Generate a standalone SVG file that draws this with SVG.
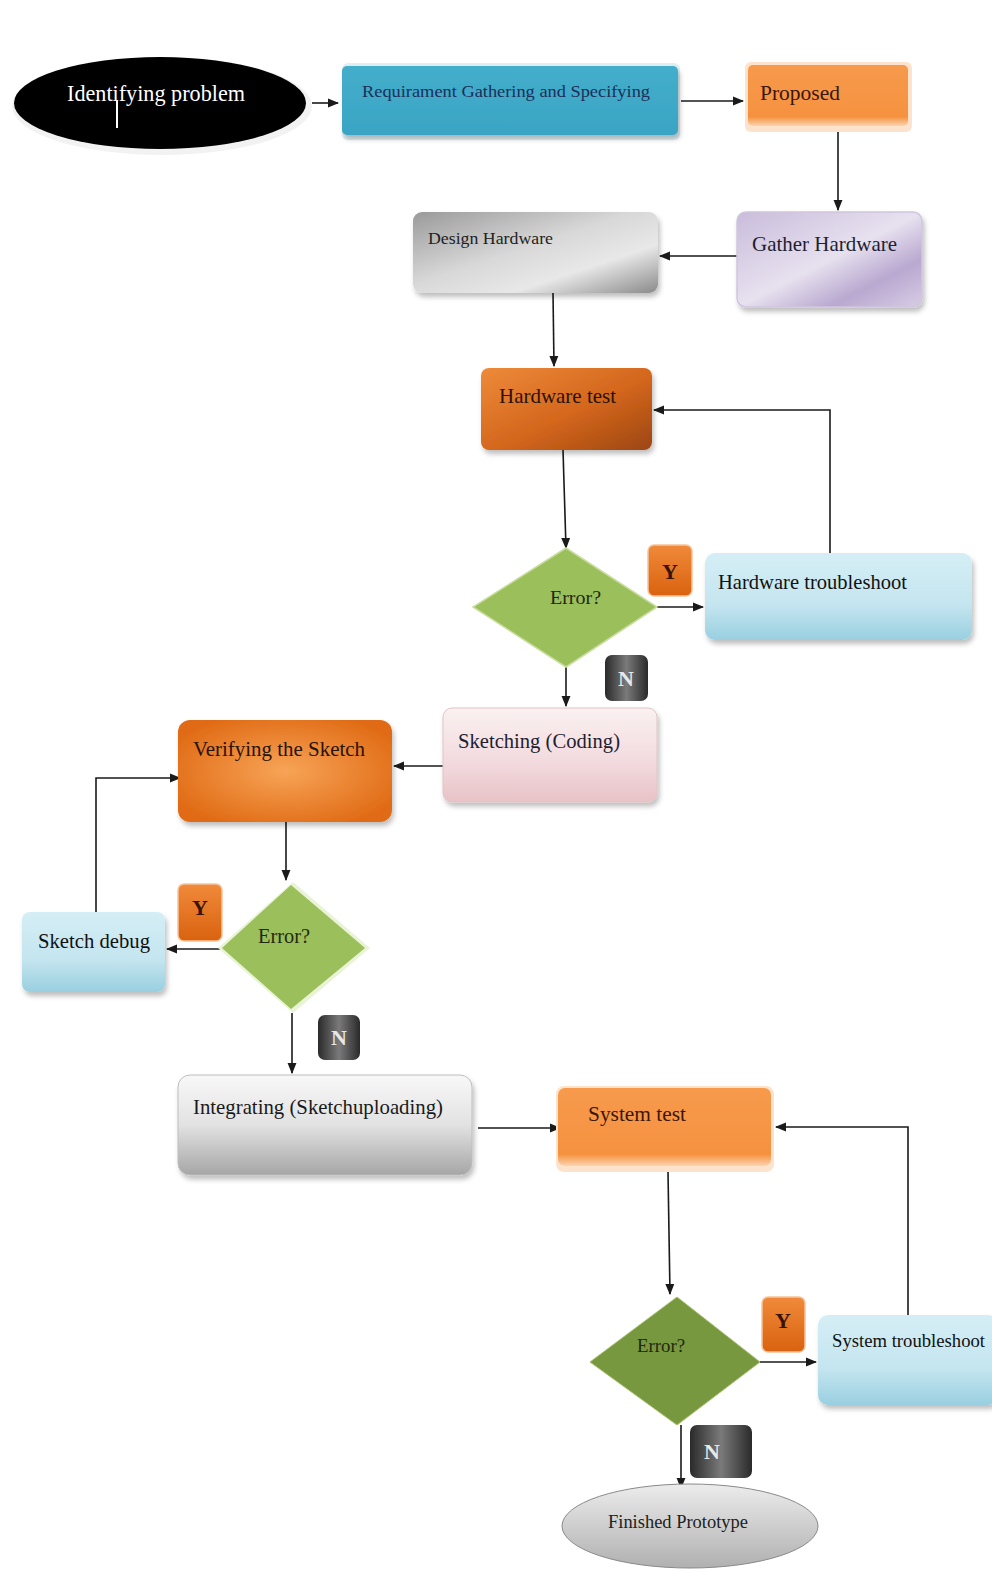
<svg xmlns="http://www.w3.org/2000/svg" width="992" height="1573" viewBox="0 0 992 1573">
<defs>
<style>
.t{font-family:"Liberation Serif","DejaVu Serif",serif;}
.lbl{font-family:"Liberation Serif","DejaVu Serif",serif;font-size:21px;fill:#1a1a1a;}
.conn{stroke:#1a1a1a;stroke-width:1.6;fill:none;}
.badge{font-family:"Liberation Serif",serif;font-size:22px;font-weight:bold;text-anchor:middle;}
</style>
<filter id="sh" x="-10%" y="-10%" width="125%" height="130%">
<feDropShadow dx="2" dy="4" stdDeviation="2.5" flood-color="#000" flood-opacity="0.25"/>
</filter>
<marker id="ah" viewBox="0 0 10 10" refX="9" refY="5" markerWidth="7" markerHeight="7" orient="auto-start-reverse">
<path d="M0,1 L10,5 L0,9 z" fill="#1a1a1a"/>
</marker>
<linearGradient id="gBlue" x1="0" y1="0" x2="0" y2="1"><stop offset="0" stop-color="#44aecb"/><stop offset="1" stop-color="#3aa4c4"/></linearGradient>
<linearGradient id="gOr" x1="0" y1="0" x2="0" y2="1"><stop offset="0" stop-color="#f79a4c"/><stop offset="0.85" stop-color="#f59240"/><stop offset="1" stop-color="#fbd3b0"/></linearGradient>
<linearGradient id="gLav" x1="0" y1="0" x2="1" y2="1"><stop offset="0" stop-color="#c9bcdb"/><stop offset="0.5" stop-color="#e7e1ef"/><stop offset="0.75" stop-color="#b9a8d0"/><stop offset="1" stop-color="#d7cde5"/></linearGradient>
<linearGradient id="gGray" x1="0" y1="0" x2="1" y2="1"><stop offset="0" stop-color="#9a9a9a"/><stop offset="0.45" stop-color="#d8d8d8"/><stop offset="0.7" stop-color="#e8e8e8"/><stop offset="1" stop-color="#8a8a8a"/></linearGradient>
<linearGradient id="gHw" x1="0" y1="0" x2="1" y2="1"><stop offset="0" stop-color="#ee8a3a"/><stop offset="0.55" stop-color="#d3661c"/><stop offset="1" stop-color="#9c4612"/></linearGradient>
<linearGradient id="gLb" x1="0" y1="0" x2="0" y2="1"><stop offset="0" stop-color="#d5eef5"/><stop offset="0.6" stop-color="#c4e5ef"/><stop offset="1" stop-color="#99cfe0"/></linearGradient>
<linearGradient id="gPink" x1="0" y1="0" x2="0" y2="1"><stop offset="0" stop-color="#faf1f1"/><stop offset="0.6" stop-color="#f2d9dd"/><stop offset="1" stop-color="#e8c2c7"/></linearGradient>
<radialGradient id="gVer" cx="0.5" cy="0.5" r="0.6"><stop offset="0" stop-color="#f7a457"/><stop offset="1" stop-color="#e06a14"/></radialGradient>
<linearGradient id="gInt" x1="0" y1="0" x2="0" y2="1"><stop offset="0" stop-color="#f8f8f8"/><stop offset="0.5" stop-color="#e2e2e2"/><stop offset="1" stop-color="#a6a6a6"/></linearGradient>
<linearGradient id="gFin" x1="0" y1="0" x2="0" y2="1"><stop offset="0" stop-color="#ececec"/><stop offset="1" stop-color="#b0b0b0"/></linearGradient>
<linearGradient id="gY" x1="0" y1="0" x2="0" y2="1"><stop offset="0" stop-color="#f08a3a"/><stop offset="1" stop-color="#d9620f"/></linearGradient>
<linearGradient id="gN" x1="0" y1="0" x2="1" y2="0"><stop offset="0" stop-color="#2a2a2a"/><stop offset="0.5" stop-color="#7a7a7a"/><stop offset="1" stop-color="#2a2a2a"/></linearGradient>
</defs>

<rect width="992" height="1573" fill="#ffffff"/>

<g id="connectors">
<line class="conn" x1="312" y1="103" x2="338" y2="103" marker-end="url(#ah)"/>
<line class="conn" x1="681" y1="101" x2="743" y2="101" marker-end="url(#ah)"/>
<line class="conn" x1="838" y1="128" x2="838" y2="210" marker-end="url(#ah)"/>
<line class="conn" x1="737" y1="256" x2="660" y2="256" marker-end="url(#ah)"/>
<line class="conn" x1="553" y1="293" x2="554" y2="366" marker-end="url(#ah)"/>
<line class="conn" x1="563" y1="450" x2="566" y2="548" marker-end="url(#ah)"/>
<line class="conn" x1="657" y1="607" x2="703" y2="607" marker-end="url(#ah)"/>
<polyline class="conn" points="830,553 830,410 654,410" marker-end="url(#ah)"/>
<line class="conn" x1="566" y1="667" x2="566" y2="706" marker-end="url(#ah)"/>
<line class="conn" x1="443" y1="766" x2="394" y2="766" marker-end="url(#ah)"/>
<line class="conn" x1="286" y1="822" x2="286" y2="880" marker-end="url(#ah)"/>
<line class="conn" x1="220" y1="949" x2="167" y2="949" marker-end="url(#ah)"/>
<polyline class="conn" points="96,912 96,778 180,778" marker-end="url(#ah)"/>
<line class="conn" x1="292" y1="1013" x2="292" y2="1073" marker-end="url(#ah)"/>
<line class="conn" x1="478" y1="1128" x2="560" y2="1128" marker-end="url(#ah)"/>
<line class="conn" x1="668" y1="1172" x2="670" y2="1294" marker-end="url(#ah)"/>
<line class="conn" x1="760" y1="1362" x2="816" y2="1362" marker-end="url(#ah)"/>
<polyline class="conn" points="908,1315 908,1127 776,1127" marker-end="url(#ah)"/>
<line class="conn" x1="681" y1="1425" x2="681" y2="1488" marker-end="url(#ah)"/>
</g>

<g id="n-identify">
<ellipse cx="162" cy="106" rx="150" ry="49" fill="#f2f2f2"/>
<ellipse cx="160" cy="103" rx="146" ry="46" fill="#000"/>
<text class="t" x="67" y="101" font-size="24" fill="#ffffff" textLength="178" lengthAdjust="spacingAndGlyphs">Identifying  problem</text>
<line x1="117" y1="100" x2="117" y2="128" stroke="#ffffff" stroke-width="2"/>
</g>

<g id="n-requirement">
<rect x="342" y="63" width="338" height="77" rx="6" fill="#dff0f5"/>
<rect x="342" y="66" width="336" height="69" rx="5" fill="url(#gBlue)" filter="url(#sh)"/>
<text class="t" x="362" y="97" font-size="17" fill="#1b2f5a" textLength="288" lengthAdjust="spacingAndGlyphs">Requirament Gathering and Specifying</text>
</g>

<g id="n-proposed">
<rect x="745" y="62" width="167" height="70" rx="6" fill="#fde3cc"/>
<rect x="748" y="65" width="160" height="61" rx="5" fill="url(#gOr)"/>
<text class="t" x="760" y="100" font-size="22" fill="#3a1608" textLength="80" lengthAdjust="spacingAndGlyphs">Proposed</text>
</g>

<g id="n-gather">
<rect x="737" y="212" width="185" height="95" rx="9" fill="url(#gLav)" stroke="#cfc6de" stroke-width="1.5" filter="url(#sh)"/>
<text class="t" x="752" y="251" font-size="21" fill="#1f1f30" textLength="145" lengthAdjust="spacingAndGlyphs">Gather Hardware</text>
</g>

<g id="n-design">
<rect x="413" y="212" width="245" height="81" rx="9" fill="url(#gGray)" filter="url(#sh)"/>
<text class="t" x="428" y="244" font-size="17" fill="#222" textLength="125" lengthAdjust="spacingAndGlyphs">Design Hardware</text>
</g>

<g id="n-hwtest">
<rect x="481" y="368" width="171" height="82" rx="8" fill="url(#gHw)" filter="url(#sh)"/>
<text class="t" x="499" y="403" font-size="21" fill="#2a1206" textLength="117" lengthAdjust="spacingAndGlyphs">Hardware test</text>
</g>

<g id="n-error1">
<polygon points="566,548 657,607 566,667 473,607" fill="#9bbf5a" stroke="#c8dd9e" stroke-width="1.5"/>
<text class="t" x="550" y="604" font-size="19" fill="#1e2a10" textLength="51" lengthAdjust="spacingAndGlyphs">Error?</text>
</g>

<g id="n-y1">
<rect x="648" y="545" width="44" height="51" rx="6" fill="url(#gY)" stroke="#f7c49a" stroke-width="1.5"/>
<text class="badge" x="670" y="579" fill="#3a1206">Y</text>
</g>

<g id="n-hwtrouble">
<rect x="705" y="553" width="267" height="87" rx="10" fill="url(#gLb)" filter="url(#sh)"/>
<text class="t" x="718" y="589" font-size="22" fill="#111" textLength="189" lengthAdjust="spacingAndGlyphs">Hardware troubleshoot</text>
</g>

<g id="n-n1">
<rect x="605" y="655" width="43" height="46" rx="7" fill="url(#gN)"/>
<text class="badge" x="626" y="686" fill="#e8e8e8">N</text>
</g>

<g id="n-sketching">
<rect x="443" y="708" width="214" height="94" rx="9" fill="url(#gPink)" stroke="#e0c3c6" stroke-width="1" filter="url(#sh)"/>
<text class="t" x="458" y="748" font-size="22" fill="#1e1e30" textLength="162" lengthAdjust="spacingAndGlyphs">Sketching (Coding)</text>
</g>

<g id="n-verify">
<rect x="178" y="720" width="214" height="102" rx="12" fill="url(#gVer)" filter="url(#sh)"/>
<text class="t" x="193" y="756" font-size="22" fill="#2a1206" textLength="172" lengthAdjust="spacingAndGlyphs">Verifying the Sketch</text>
</g>

<g id="n-error2">
<polygon points="293,882 370,948 293,1013 218,948" fill="#e9f3d6"/>
<polygon points="291,885 365,948 291,1009 222,948" fill="#9bbf5a"/>
<text class="t" x="258" y="943" font-size="20" fill="#1e2a10" textLength="52" lengthAdjust="spacingAndGlyphs">Error?</text>
</g>

<g id="n-y2">
<rect x="178" y="884" width="44" height="57" rx="6" fill="url(#gY)" stroke="#f7c49a" stroke-width="1.5"/>
<text class="badge" x="200" y="915" fill="#3a1206">Y</text>
</g>

<g id="n-sketchdebug">
<rect x="22" y="912" width="143" height="80" rx="8" fill="url(#gLb)" filter="url(#sh)"/>
<text class="t" x="38" y="948" font-size="21" fill="#111" textLength="112" lengthAdjust="spacingAndGlyphs">Sketch debug</text>
</g>

<g id="n-n2">
<rect x="318" y="1015" width="42" height="45" rx="7" fill="url(#gN)"/>
<text class="badge" x="339" y="1045" fill="#e8e8e8">N</text>
</g>

<g id="n-integrate">
<rect x="178" y="1075" width="294" height="100" rx="12" fill="url(#gInt)" stroke="#bdbdbd" stroke-width="1" filter="url(#sh)"/>
<text class="t" x="193" y="1114" font-size="21" fill="#1a1a1a" textLength="250" lengthAdjust="spacingAndGlyphs">Integrating (Sketchuploading)</text>
</g>

<g id="n-systest">
<rect x="556" y="1086" width="218" height="86" rx="8" fill="#fde3cc"/>
<rect x="558" y="1088" width="213" height="78" rx="7" fill="url(#gOr)"/>
<text class="t" x="588" y="1121" font-size="21" fill="#3a1608" textLength="98" lengthAdjust="spacingAndGlyphs">System test</text>
</g>

<g id="n-error3">
<polygon points="677,1297 760,1362 677,1425 590,1362" fill="#77983f" stroke="#a6c06e" stroke-width="1"/>
<text class="t" x="637" y="1352" font-size="19" fill="#1e2a10" textLength="48" lengthAdjust="spacingAndGlyphs">Error?</text>
</g>

<g id="n-y3">
<rect x="762" y="1297" width="43" height="55" rx="6" fill="url(#gY)" stroke="#f7c49a" stroke-width="1.5"/>
<text class="badge" x="783" y="1328" fill="#3a1206">Y</text>
</g>

<g id="n-systrouble">
<rect x="818" y="1315" width="180" height="90" rx="10" fill="url(#gLb)" filter="url(#sh)"/>
<text class="t" x="832" y="1347" font-size="19" fill="#111" textLength="153" lengthAdjust="spacingAndGlyphs">System troubleshoot</text>
</g>

<g id="n-n3">
<rect x="690" y="1425" width="62" height="53" rx="7" fill="url(#gN)"/>
<text class="badge" x="712" y="1459" fill="#e8e8e8">N</text>
</g>

<g id="n-finished">
<ellipse cx="690" cy="1526" rx="128" ry="42" fill="url(#gFin)" stroke="#8a8a8a" stroke-width="1"/>
<text class="t" x="608" y="1528" font-size="18" fill="#222" textLength="140" lengthAdjust="spacingAndGlyphs">Finished Prototype</text>
</g>
</svg>
